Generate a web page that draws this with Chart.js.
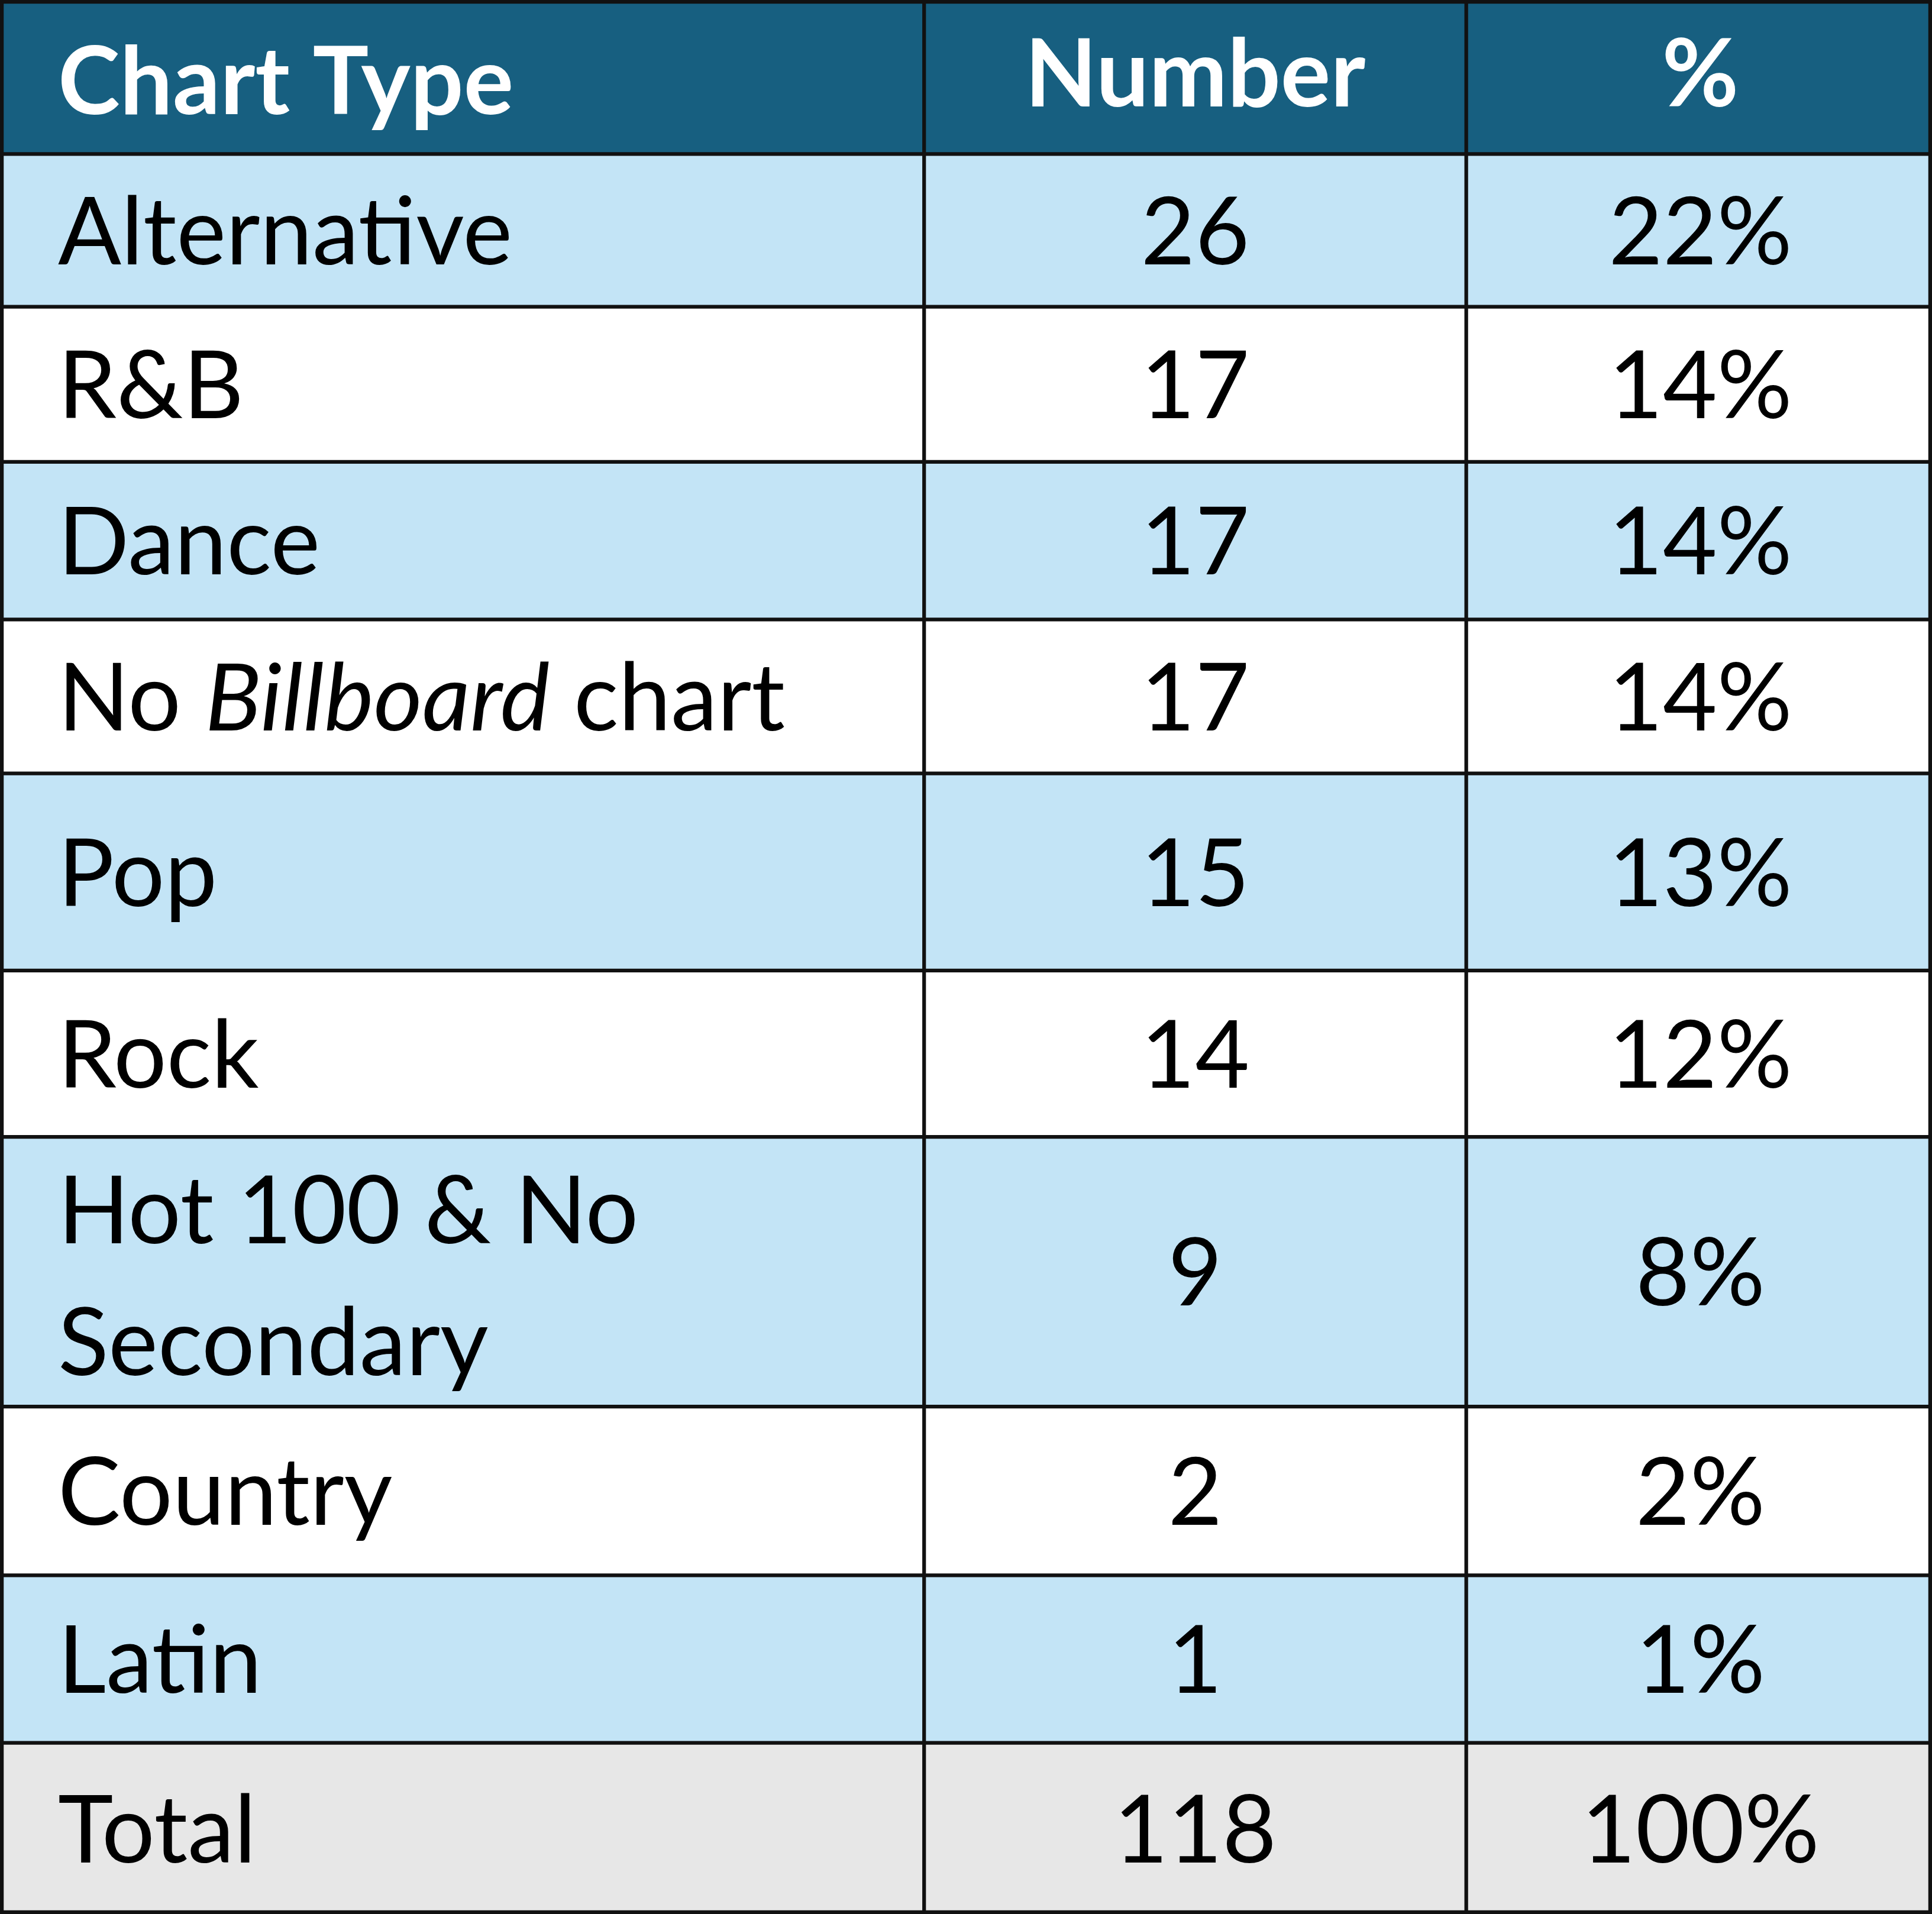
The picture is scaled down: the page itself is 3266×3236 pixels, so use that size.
<!DOCTYPE html>
<html><head><meta charset="utf-8">
<script src="https://cdn.jsdelivr.net/npm/chart.js@4/dist/chart.umd.min.js"></script>
<style>html,body{margin:0;padding:0;background:#fff}#w{width:3266px;height:3236px}</style>
</head><body><div id="w"><canvas id="c"></canvas></div>
<script>
const headers = ["Chart Type", "Number", "%"];
const categories = ["Alternative", "R&B", "Dance", "No |Billboard| chart", "Pop", "Rock", "Hot 100 & No\nSecondary", "Country", "Latin", "Total"];
const numbers = [26, 17, 17, 17, 15, 14, 9, 2, 1, 118];
const percents = ["22%", "14%", "14%", "14%", "13%", "12%", "8%", "2%", "1%", "100%"];

// layout (in reference units)
const rowEdges = [0,125,249,375,503,628,788,923,1142,1279,1415,1554];
const colEdges = [0,750,1190,1568];
const W = 1568, H = 1554;
const S = 3266/1568;
const FONT = "Lato, 'Open Sans', sans-serif";

const tablePlugin = {
  id: 'table',
  afterDraw(chart) {
    const ctx = chart.ctx, xs = chart.scales.x, ys = chart.scales.y;
    const X = v => xs.getPixelForValue(v), Y = v => ys.getPixelForValue(v);
    const nRows = rowEdges.length - 1;
    for (let r = 0; r < nRows; r++) {
      let fill = r === 0 ? '#175f80' : (r === nRows-1 ? '#e7e7e7' : (r % 2 === 1 ? '#c3e4f6' : '#ffffff'));
      ctx.fillStyle = fill;
      ctx.fillRect(X(0), Y(rowEdges[r]), X(W)-X(0), Y(rowEdges[r+1])-Y(rowEdges[r]));
    }
    ctx.strokeStyle = '#111'; ctx.lineWidth = 3*S;
    rowEdges.forEach(e => { ctx.beginPath(); ctx.moveTo(X(0), Y(e)); ctx.lineTo(X(W), Y(e)); ctx.stroke(); });
    colEdges.forEach(e => { ctx.beginPath(); ctx.moveTo(X(e), Y(0)); ctx.lineTo(X(e), Y(H)); ctx.stroke(); });
    ctx.strokeRect(X(0)+1.5*S, Y(0)+1.5*S, X(W)-X(0)-3*S, Y(H)-Y(0)-3*S);
    const fs = 76*S;
    ctx.textBaseline = 'middle';
    // header
    ctx.fillStyle = '#fff'; ctx.font = `bold ${fs}px ${FONT}`;
    const hm = Y(62);
    ctx.textAlign = 'left'; ctx.fillText(headers[0], X(47), Y(68));
    ctx.textAlign = 'center'; ctx.fillText(headers[1], X(970), hm); ctx.fillText(headers[2], X(1380), hm);
    for (let i = 0; i < categories.length; i++) {
      const mid = Y((rowEdges[i+1] + rowEdges[i+2]) / 2 + 3);
      ctx.fillStyle = '#000';
      ctx.font = `${fs}px ${FONT}`;
      ctx.textAlign = 'center';
      ctx.fillText(String(numbers[i]), X(970), mid);
      ctx.fillText(percents[i], X(1380), mid);
      ctx.textAlign = 'left';
      const lines = categories[i].split('\n');
      lines.forEach((ln, k) => {
        const y = lines.length > 1 ? Y(rowEdges[i+1] + 62 + k*107) : mid;
        let x = X(47);
        ln.split('|').forEach((seg, j) => {
          ctx.font = (j % 2 ? 'italic ' : '') + `${fs}px ${FONT}`;
          ctx.fillText(seg, x, y);
          x += ctx.measureText(seg).width;
        });
      });
    }
  }
};

new Chart(document.getElementById('c'), {
  type: 'scatter',
  data: { datasets: [{ data: [], pointRadius: 0 }] },
  options: {
    responsive: true, maintainAspectRatio: false, animation: false,
    layout: { padding: 0 },
    plugins: { legend: { display: false }, tooltip: { enabled: false } },
    scales: {
      x: { type: 'linear', min: 0, max: W, display: false },
      y: { type: 'linear', min: 0, max: H, reverse: true, display: false }
    }
  },
  plugins: [tablePlugin]
});
</script></body></html>
